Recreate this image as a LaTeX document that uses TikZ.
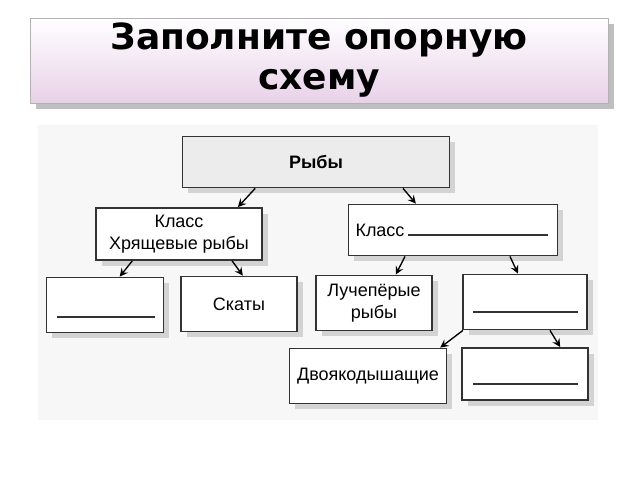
\documentclass[tikz,border=0pt]{standalone}
\usepackage{fontspec}
\setmainfont{Liberation Sans}
\newfontfamily\titlefont{DejaVu Sans}
\usetikzlibrary{shadows}
\tikzset{
    box/.style={draw=black!80, line width=0.8pt, fill=white, drop shadow={opacity=0.3},
        align=center, font=\footnotesize, inner sep=2pt},
    link/.style={->, >=stealth, line width=0.6pt},
    blank/.style={draw=black!80, line width=0.6pt}
}
\begin{document}
\begin{tikzpicture}[x=0.015625cm, y=-0.015625cm]
    \useasboundingbox (0,0) rectangle (640,480);
    % title
    \shade[top color=white, bottom color=violet!18, draw=gray!60, drop shadow]
        (30,18) rectangle (608,103);
    \node[font=\titlefont\bfseries\fontsize{16}{18}\selectfont, align=center] (title)
        at (319,60) {Заполните опорную\\схему};
    % background of the scan
    \fill[gray!6] (38,125) rectangle (598,420);
    % boxes
    \node[box, fill=gray!15, minimum width=267*0.015625cm, minimum height=51*0.015625cm] (fish) at (316,162) {\textbf{Рыбы}};
    \node[box, minimum width=166*0.015625cm, minimum height=52*0.015625cm] (cart) at (179,234) {Класс\\Хрящевые рыбы};
    \node[box, minimum width=209*0.015625cm, minimum height=51*0.015625cm] (bony) at (453,230) {};
    \node[font=\footnotesize] (bonyl) at (380,230) {Класс};
    \draw[blank] (408,235) -- (548,235);
    \node[box, minimum width=117*0.015625cm, minimum height=55*0.015625cm] (sharks) at (105,305) {};
    \draw[blank] (57,317) -- (155,317);
    \node[box, minimum width=116*0.015625cm, minimum height=55*0.015625cm] (rays) at (239,304) {Скаты};
    \node[box, minimum width=116*0.015625cm, minimum height=55*0.015625cm] (ray) at (374,303) {Лучепёрые\\рыбы};
    \node[box, minimum width=124*0.015625cm, minimum height=55*0.015625cm] (lobe) at (525,302) {};
    \draw[blank] (473,312) -- (578,312);
    \node[box, minimum width=157*0.015625cm, minimum height=55*0.015625cm] (lung) at (368,376) {Двоякодышащие};
    \node[box, minimum width=126*0.015625cm, minimum height=52*0.015625cm] (other) at (525,374) {};
    \draw[blank] (473,384) -- (578,384);
    % arrows
    \draw[link] ([xshift=-0.95cm]fish.south) -- ([xshift=0.92cm]cart.north);
    \draw[link] ([xshift=1.36cm]fish.south) -- ([xshift=-0.58cm]bony.north);
    \draw[link] ([xshift=-0.73cm]cart.south) -- ([xshift=0.23cm]sharks.north);
    \draw[link] ([xshift=0.83cm]cart.south) -- ([xshift=0.06cm]rays.north);
    \draw[link] ([xshift=-0.75cm]bony.south) -- ([xshift=0.34cm]ray.north);
    \draw[link] ([xshift=0.89cm]bony.south) -- ([xshift=-0.11cm]lobe.north);
    \draw[link] ([xshift=-0.97cm]lobe.south) -- ([xshift=1.13cm]lung.north);
    \draw[link] ([xshift=0.39cm]lobe.south) -- ([xshift=0.55cm]other.north);
\end{tikzpicture}
\end{document}
